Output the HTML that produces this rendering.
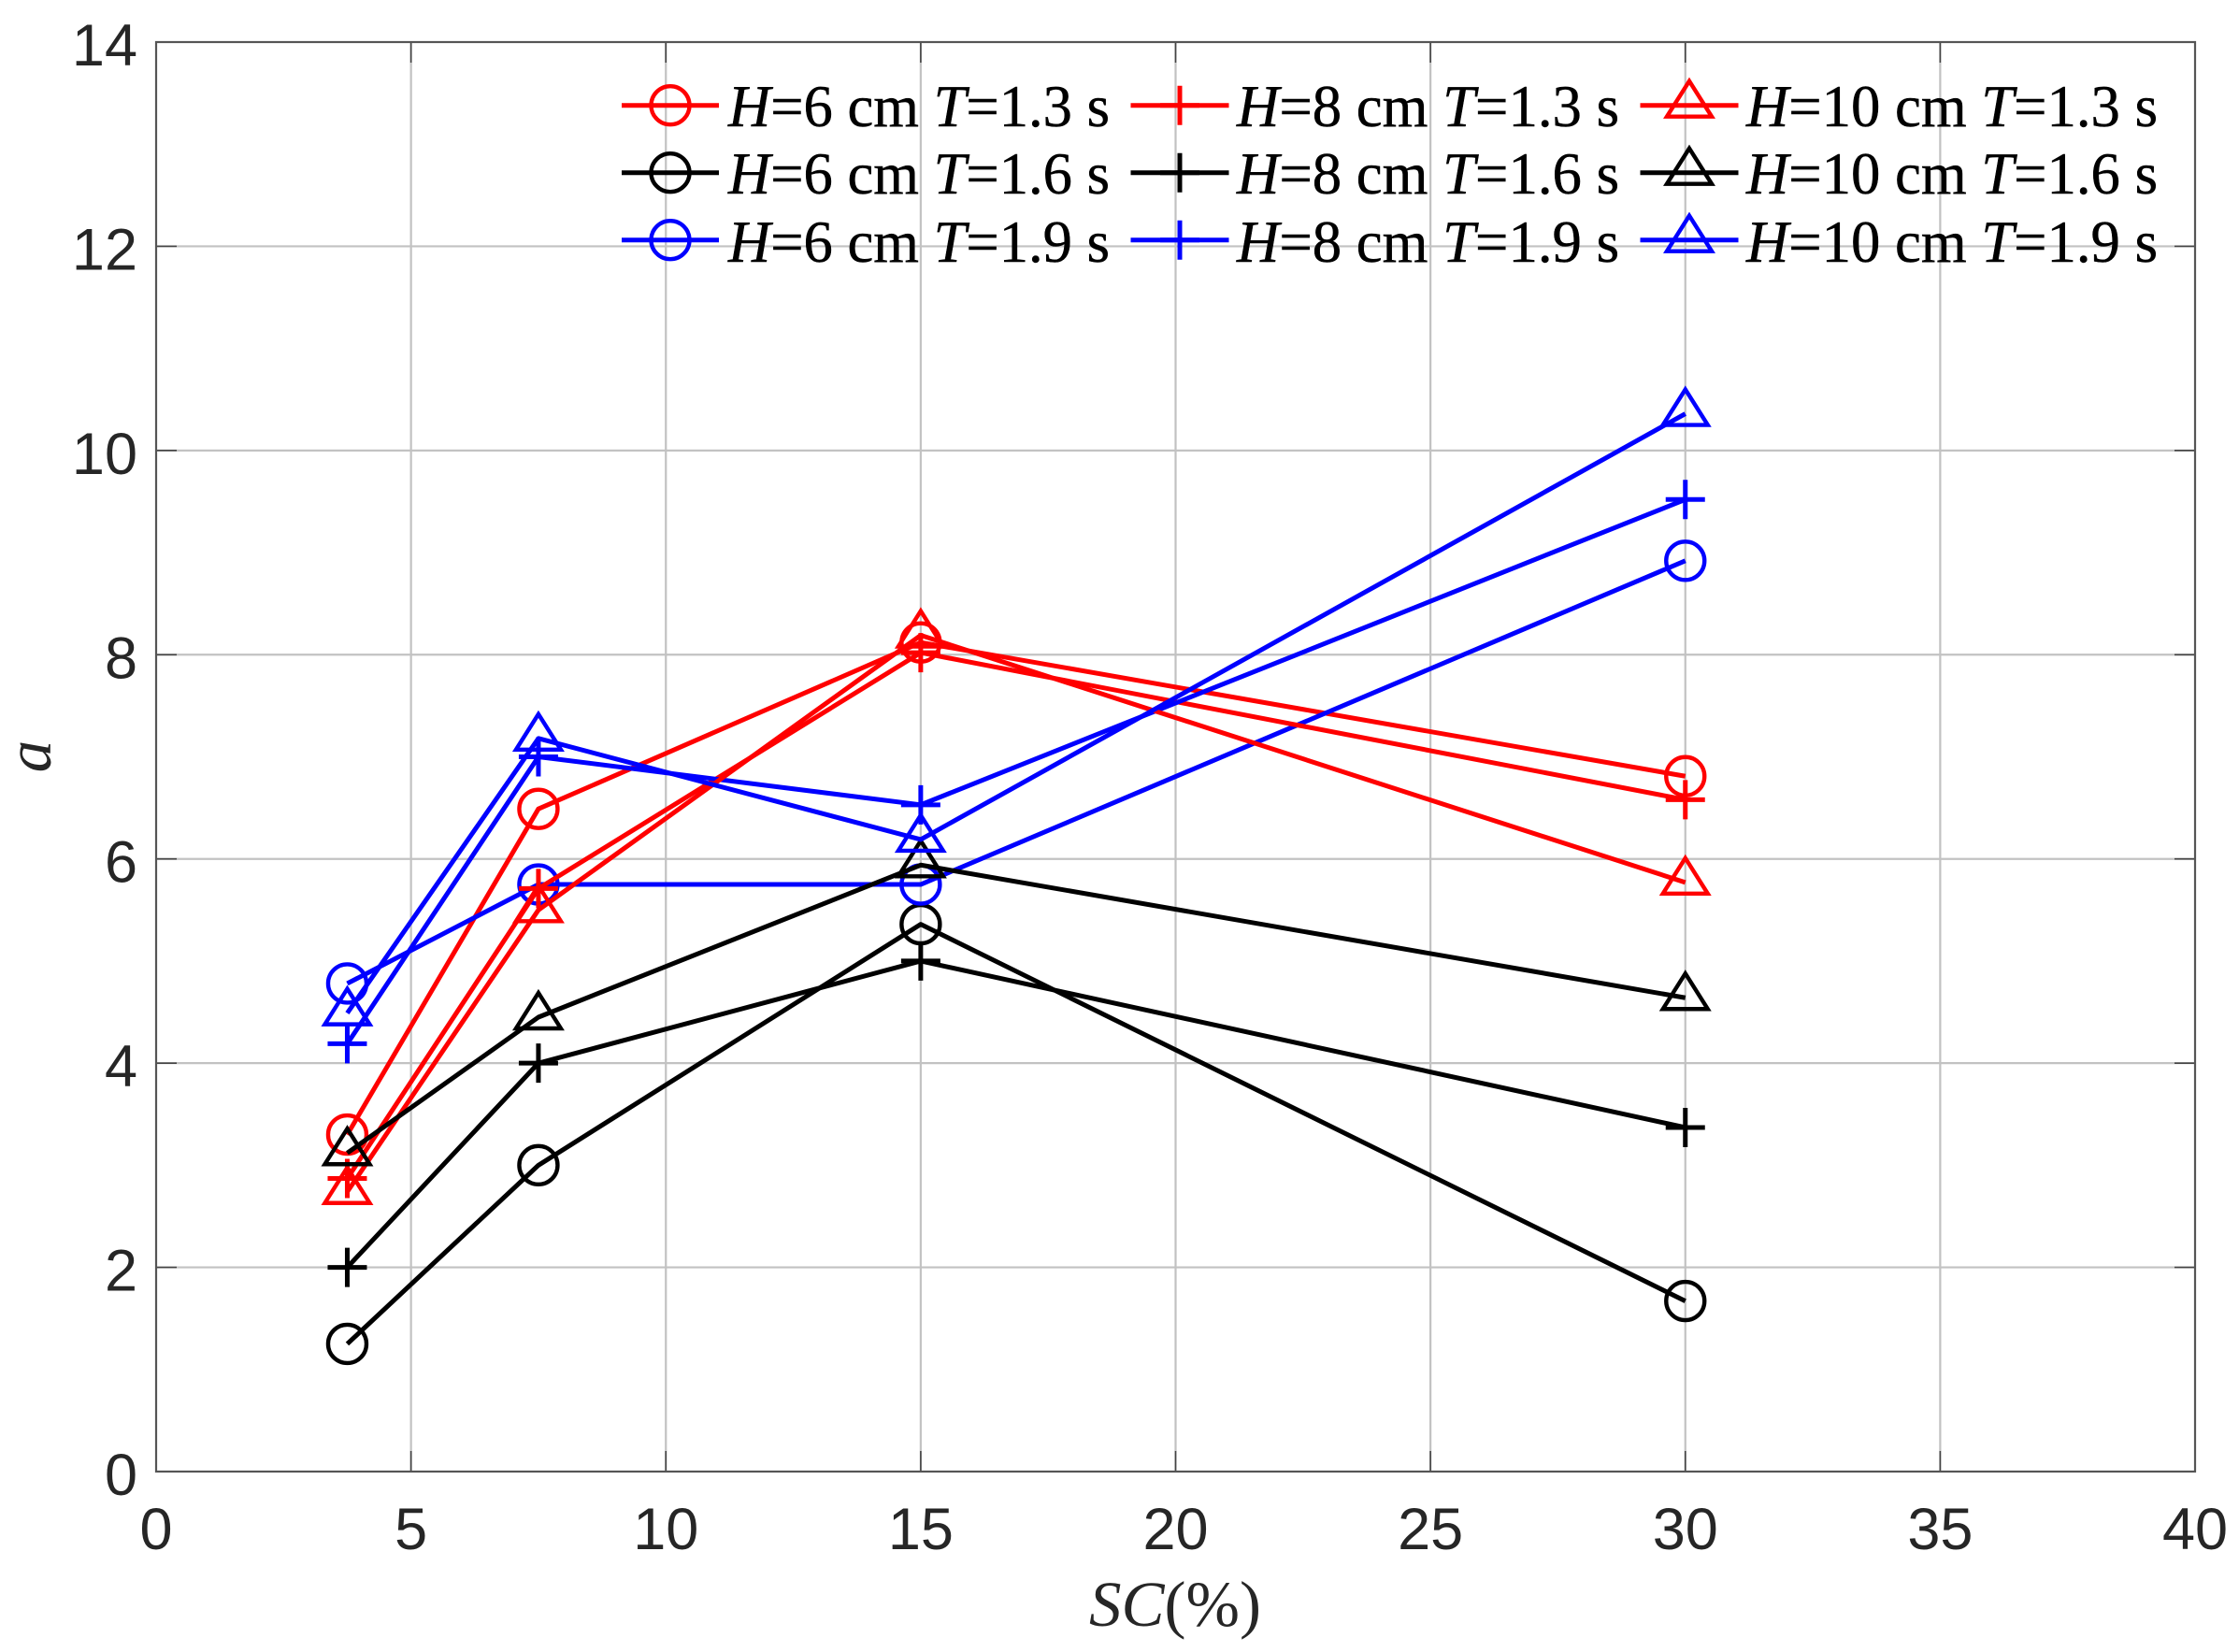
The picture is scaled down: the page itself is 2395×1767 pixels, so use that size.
<!DOCTYPE html>
<html>
<head>
<meta charset="utf-8">
<title>SC vs a chart</title>
<style>
html,body{margin:0;padding:0;background:#fff;}
svg{display:block;}
.tick{font-family:"Liberation Sans",sans-serif;font-size:63px;fill:#262626;}
.leg{font-family:"Liberation Serif",serif;font-size:63px;fill:#000;stroke:#000;stroke-width:0.5px;}
.title{font-family:"Liberation Serif",serif;font-size:69px;fill:#262626;}
i,.it{font-style:italic;}
</style>
</head>
<body>
<svg id="chart" xmlns="http://www.w3.org/2000/svg" width="2395" height="1767" viewBox="0 0 2395 1767">
<rect x="0" y="0" width="2395" height="1767" fill="#fff"/>
<g id="grid"></g>
<g id="axes"></g>
<g id="series"></g>
<g id="legend">
<text class="leg" x="779" y="135" textLength="408" lengthAdjust="spacingAndGlyphs"><tspan class="it">H</tspan>=6 cm <tspan class="it">T</tspan>=1.3 s</text>
<text class="leg" x="779" y="207" textLength="408" lengthAdjust="spacingAndGlyphs"><tspan class="it">H</tspan>=6 cm <tspan class="it">T</tspan>=1.6 s</text>
<text class="leg" x="779" y="280" textLength="408" lengthAdjust="spacingAndGlyphs"><tspan class="it">H</tspan>=6 cm <tspan class="it">T</tspan>=1.9 s</text>
<text class="leg" x="1323" y="135" textLength="409" lengthAdjust="spacingAndGlyphs"><tspan class="it">H</tspan>=8 cm <tspan class="it">T</tspan>=1.3 s</text>
<text class="leg" x="1323" y="207" textLength="409" lengthAdjust="spacingAndGlyphs"><tspan class="it">H</tspan>=8 cm <tspan class="it">T</tspan>=1.6 s</text>
<text class="leg" x="1323" y="280" textLength="409" lengthAdjust="spacingAndGlyphs"><tspan class="it">H</tspan>=8 cm <tspan class="it">T</tspan>=1.9 s</text>
<text class="leg" x="1868" y="135" textLength="440" lengthAdjust="spacingAndGlyphs"><tspan class="it">H</tspan>=10 cm <tspan class="it">T</tspan>=1.3 s</text>
<text class="leg" x="1868" y="207" textLength="440" lengthAdjust="spacingAndGlyphs"><tspan class="it">H</tspan>=10 cm <tspan class="it">T</tspan>=1.6 s</text>
<text class="leg" x="1868" y="280" textLength="440" lengthAdjust="spacingAndGlyphs"><tspan class="it">H</tspan>=10 cm <tspan class="it">T</tspan>=1.9 s</text>
</g>
<text class="title" x="1257" y="1739" text-anchor="middle"><tspan class="it">SC</tspan>(%)</text>
<text class="title it" transform="translate(54,809) rotate(-90)" text-anchor="middle">a</text>
</svg>
<script>
const xCategories = [3.75, 7.5, 15, 30];
const xTickLabels = [0, 5, 10, 15, 20, 25, 30, 35, 40];
const yTickLabels = [0, 2, 4, 6, 8, 10, 12, 14];

const h6t13 = [3.30, 6.49, 8.12, 6.81];
const h6t16 = [1.25, 3.00, 5.36, 1.67];
const h6t19 = [4.78, 5.75, 5.75, 8.92];
const h8t13 = [2.87, 5.71, 8.02, 6.58];
const h8t16 = [2.00, 4.00, 5.00, 3.37];
const h8t19 = [4.19, 7.00, 6.53, 9.52];
const h10t13 = [2.74, 5.50, 8.19, 5.77];
const h10t16 = [3.12, 4.45, 5.94, 4.64];
const h10t19 = [4.49, 7.18, 6.19, 10.36];

const NS = 'http://www.w3.org/2000/svg';
const plot = {left: 167, right: 2348, top: 45, bottom: 1574, xMax: 40, yMax: 14};
function xScale(v){ return plot.left + (plot.right - plot.left) * v / plot.xMax; }
function yScale(v){ return plot.bottom - (plot.bottom - plot.top) * v / plot.yMax; }

function make(tag, attrs, parent){
  const el = document.createElementNS(NS, tag);
  for (const k in attrs) el.setAttribute(k, attrs[k]);
  parent.appendChild(el);
  return el;
}

const gridG = document.getElementById('grid');
const axesG = document.getElementById('axes');
const seriesG = document.getElementById('series');
const legendG = document.getElementById('legend');

xTickLabels.forEach(function(t){
  const x = xScale(t);
  if (t !== 0 && t !== plot.xMax) {
    const g = make('line', {x1:x, x2:x, y1:plot.top, y2:plot.bottom, stroke:'#c2c2c2', 'stroke-width':2.2}, gridG);
    
    
    const a = make('line', {x1:x, x2:x, y1:plot.bottom, y2:plot.bottom-22, stroke:'#444', 'stroke-width':1.6}, axesG);
    
    
    const b = make('line', {x1:x, x2:x, y1:plot.top, y2:plot.top+22, stroke:'#444', 'stroke-width':1.6}, axesG);
    
    
  }
  const lab = make('text', {x:x, y:1657, 'text-anchor':'middle', class:'tick'}, axesG);
  
  
  lab.textContent = t;
});

yTickLabels.forEach(function(t){
  const y = yScale(t);
  if (t !== 0 && t !== plot.yMax) {
    const g = make('line', {x1:plot.left, x2:plot.right, y1:y, y2:y, stroke:'#c2c2c2', 'stroke-width':2.2}, gridG);
    
    
    const a = make('line', {x1:plot.left, x2:plot.left+22, y1:y, y2:y, stroke:'#444', 'stroke-width':1.6}, axesG);
    
    
    const b = make('line', {x1:plot.right, x2:plot.right-22, y1:y, y2:y, stroke:'#444', 'stroke-width':1.6}, axesG);
    
    
  }
  const lab = make('text', {x:147, y:y+25, 'text-anchor':'end', class:'tick'}, axesG);
  
  
  lab.textContent = t;
});

const frame = make('rect', {x:plot.left, y:plot.top, width:plot.right-plot.left, height:plot.bottom-plot.top, fill:'none', stroke:'#555', 'stroke-width':2.2}, axesG);



function drawMarker(type, cx, cy, color, parent){
  let m;
  if (type === 'circle') {
    m = make('circle', {cx:cx, cy:cy, r:20.5, fill:'none', stroke:color, 'stroke-width':4.4}, parent);
  } else if (type === 'plus') {
    const d = 'M' + (cx-21) + ' ' + cy + 'H' + (cx+21) + 'M' + cx + ' ' + (cy-21) + 'V' + (cy+21);
    m = make('path', {d:d, fill:'none', stroke:color, 'stroke-width':5}, parent);
  } else {
    const pts = cx + ',' + (cy-26) + ' ' + (cx-24) + ',' + (cy+12) + ' ' + (cx+24) + ',' + (cy+12);
    m = make('polygon', {points:pts, fill:'none', stroke:color, 'stroke-width':4.4, 'stroke-linejoin':'miter'}, parent);
  }
  return m;
}

const RED = '#ff0000', BLACK = '#000000', BLUE = '#0000ff';
const seriesList = [
  {name:'h6-t13', values:h6t13, color:RED, marker:'circle'},
  {name:'h6-t16', values:h6t16, color:BLACK, marker:'circle'},
  {name:'h6-t19', values:h6t19, color:BLUE, marker:'circle'},
  {name:'h8-t13', values:h8t13, color:RED, marker:'plus'},
  {name:'h8-t16', values:h8t16, color:BLACK, marker:'plus'},
  {name:'h8-t19', values:h8t19, color:BLUE, marker:'plus'},
  {name:'h10-t13', values:h10t13, color:RED, marker:'triangle'},
  {name:'h10-t16', values:h10t16, color:BLACK, marker:'triangle'},
  {name:'h10-t19', values:h10t19, color:BLUE, marker:'triangle'}
];

seriesList.forEach(function(s){
  const g = make('g', {}, seriesG);
  
  
  const pts = s.values.map(function(v, i){ return xScale(xCategories[i]) + ',' + yScale(v); }).join(' ');
  const line = make('polyline', {points:pts, fill:'none', stroke:s.color, 'stroke-width':5, 'stroke-linejoin':'round'}, g);
  
  
  s.values.forEach(function(v, i){
    const m = drawMarker(s.marker, xScale(xCategories[i]), yScale(v), s.color, g);
    
    
  });
});

const legendCols = [
  {x1:665, x2:769, mx:717, marker:'circle'},
  {x1:1209.5, x2:1314.5, mx:1262, marker:'plus'},
  {x1:1754.5, x2:1859.5, mx:1807, marker:'triangle'}
];
const legendRows = [{y:112.7, color:RED}, {y:184.7, color:BLACK}, {y:256.7, color:BLUE}];
legendCols.forEach(function(c){
  legendRows.forEach(function(r){
    const l = make('line', {x1:c.x1, x2:c.x2, y1:r.y, y2:r.y, stroke:r.color, 'stroke-width':5}, legendG);
    
    
    const m = drawMarker(c.marker, c.mx, r.y, r.color, legendG);
    
    
  });
});
</script>
</body>
</html>
